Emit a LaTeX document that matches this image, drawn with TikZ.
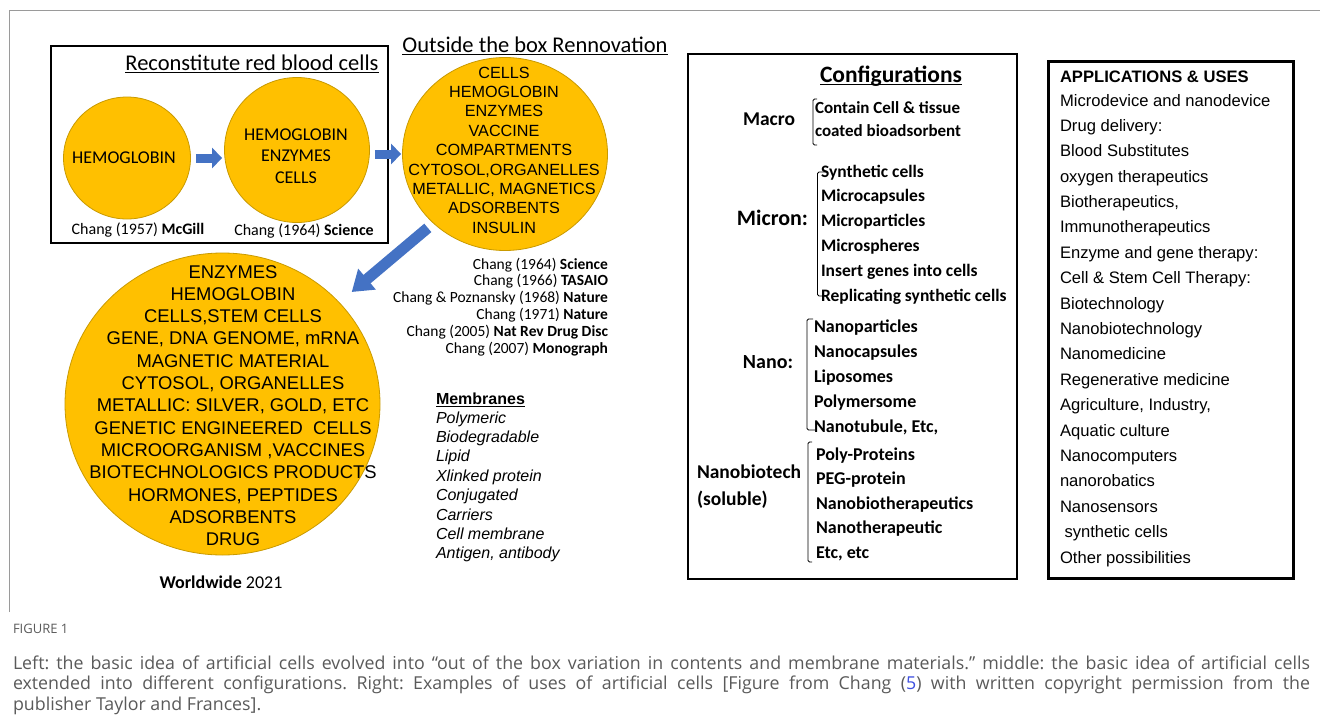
\documentclass[tikz,border=0pt]{standalone}
\usepackage{fontspec}
\setmainfont{Carlito}
\newfontfamily\arialfont{Liberation Sans}
\newfontfamily\capfont{Open Sans}
\usetikzlibrary{shapes.geometric,arrows.meta,calc}
\definecolor{gold}{HTML}{FFC000}
\definecolor{goldedge}{HTML}{C99A00}
\definecolor{arrowblue}{HTML}{4472C4}
\definecolor{capgray}{HTML}{5A5A5A}
\definecolor{framegray}{HTML}{9A9A9A}
\definecolor{linkblue}{HTML}{3D4FE0}
\newcommand{\fsz}[1]{\fontsize{#1}{#1}\selectfont}
\frenchspacing

\begin{document}
\begin{tikzpicture}[x=1pt,y=-1pt,
  cell/.style={ellipse, fill=gold, draw=goldedge, line width=0.8pt, inner sep=0pt},
  flowarrow/.style={draw=arrowblue, line width=9pt, -{Triangle[length=10pt,width=20pt]}},
  txt/.style={inner sep=0pt, outer sep=0pt},
  panel/.style={draw=black, inner sep=0pt, anchor=north west},
  brace/.style={draw=black, line width=0.9pt, rounded corners=1.5pt},
  uline/.style={draw=black, line width=1.1pt}]
\useasboundingbox (0,0) rectangle (1320,720);
\fill[white] (0,0) rectangle (1320,720);

% page frame
\draw[framegray, line width=1pt] (9,612) -- (9,10) -- (1320,10);

% ---------- left panel: contents ----------
\node[panel, line width=1.8pt, minimum width=337pt, minimum height=197pt] (rbcbox) at (50,45) {};
\node[txt, font=\fsz{22.5}, anchor=base] (rbctitle) at (252,70) {Reconstitute red blood cells};
\draw[uline] ([yshift=-2.5pt]rbctitle.base west) -- ([yshift=-2.5pt]rbctitle.base east);

\node[txt, font=\fsz{22.5}, anchor=base] (boxtitle) at (535,52) {Outside the box Rennovation};
\draw[uline] ([yshift=-2.5pt]boxtitle.base west) -- ([yshift=-2.5pt]boxtitle.base east);

\node[cell, minimum width=127pt, minimum height=122pt] (c1) at (127,158) {};
\node[txt, font=\fsz{18}, anchor=base] (c1t) at (124,163) {HEMOGLOBIN};

\node[cell, minimum width=145pt, minimum height=145pt] (c2) at (297,150) {};
\foreach \w [count=\i] in {HEMOGLOBIN,ENZYMES,CELLS}
  \node[txt, font=\fsz{18}, anchor=base] (c2t\i) at (296,118.5+21.5*\i) {\w};

\node[cell, minimum width=205pt, minimum height=193pt] (c3) at (505,154) {};
\foreach \w [count=\i] in {CELLS,HEMOGLOBIN,ENZYMES,VACCINE,COMPARTMENTS,{CYTOSOL,ORGANELLES},{METALLIC, MAGNETICS},ADSORBENTS,INSULIN}
  \node[txt, font=\arialfont\fsz{16.2}, anchor=base] (c3t\i) at (504,58.6+19.4*\i) {\w};

\node[cell, minimum width=315pt, minimum height=302pt] (c4) at (222.5,404) {};
\foreach \w [count=\i] in {ENZYMES,HEMOGLOBIN,{CELLS,STEM CELLS},{GENE, DNA GENOME, mRNA},MAGNETIC MATERIAL,{CYTOSOL, ORGANELLES},{METALLIC: SILVER, GOLD, ETC},GENETIC ENGINEERED\ \ CELLS,{MICROORGANISM ,VACCINES},BIOTECHNOLOGICS PRODUCTS,{HORMONES, PEPTIDES},ADSORBENTS,DRUG}
  \node[txt, font=\arialfont\fsz{18.4}, anchor=base] (c4t\i) at (233,255.67+22.33*\i) {\w};

% arrows between the cells
\draw[flowarrow, shorten <=5pt, shorten >=2pt] (c1.east) -- (c1.east -| c2.west);
\draw[flowarrow, shorten <=5pt, shorten >=1pt] (c2.east |- c3.west) -- (c3.west);
\draw[flowarrow, line width=11pt, -{Triangle[length=20pt,width=26pt]}, shorten <=7pt, shorten >=16pt] (c3.224) -- (c4.41);

% references
\node[txt, font=\fsz{16}, anchor=base] (ref1) at (138,234) {Chang (1957) \textbf{McGill}};
\node[txt, font=\fsz{16}, anchor=base] (ref2) at (304,235) {Chang (1964) \textbf{Science}};
\foreach \w [count=\i] in {Chang (1964) \textbf{Science},Chang (1966) \textbf{TASAIO},Chang \& Poznansky (1968) \textbf{Nature},Chang (1971) \textbf{Nature},Chang (2005) \textbf{Nat Rev Drug Disc},Chang (2007) \textbf{Monograph}}
  \node[txt, font=\fsz{15.5}, anchor=base east] (cite\i) at (608,252.2+16.8*\i) {\w};

% membranes list
\node[txt, font=\arialfont\bfseries\fsz{16}, anchor=base west] (memtitle) at (436,404) {Membranes};
\draw[uline] ([yshift=-2.5pt]memtitle.base west) -- ([yshift=-2.5pt]memtitle.base east);
\foreach \w [count=\i] in {Polymeric,Biodegradable,Lipid,Xlinked protein,Conjugated,Carriers,Cell membrane,{Antigen, antibody}}
  \node[txt, font=\arialfont\itshape\fsz{16}, anchor=base west] (mem\i) at (436,403.6+19.4*\i) {\w};

\node[txt, font=\fsz{18}, anchor=base] (world) at (221,588) {\textbf{Worldwide} 2021};

% ---------- middle panel: configurations ----------
\node[panel, line width=1.5pt, minimum width=329pt, minimum height=525pt] (cfgbox) at (687,53) {};
\node[txt, font=\bfseries\fsz{23.5}, anchor=base] (cfgtitle) at (891,82) {Configurations};
\draw[uline] ([yshift=-2.5pt]cfgtitle.base west) -- ([yshift=-2.5pt]cfgtitle.base east);

\node[txt, font=\bfseries\fsz{19.5}, anchor=base east] (macro) at (795,125) {Macro};
\node[txt, font=\bfseries\fsz{17}, anchor=base west] (mac1) at (815,113) {Contain Cell \& tissue};
\node[txt, font=\bfseries\fsz{17}, anchor=base west] (mac2) at (815,136) {coated bioadsorbent};
\draw[brace] (817,99) -- (813,99) -- (813,145) -- (817,145);

\node[txt, font=\bfseries\fsz{22}, anchor=base east] (micron) at (808,225) {Micron:};
\foreach \w [count=\i] in {Synthetic cells,Microcapsules,Microparticles,Microspheres,Insert genes into cells,Replicating synthetic cells}
  \node[txt, font=\bfseries\fsz{17.5}, anchor=base west] (mic\i) at (821,152.2+24.8*\i) {\w};
\draw[brace] (827,172) -- (817.5,172) -- (817.5,296) -- (827,296);

\node[txt, font=\bfseries\fsz{20}, anchor=base east] (nano) at (793,368) {Nano:};
\foreach \w [count=\i] in {Nanoparticles,Nanocapsules,Liposomes,Polymersome,{Nanotubule, Etc,}}
  \node[txt, font=\bfseries\fsz{18}, anchor=base west] (nan\i) at (814,307+25*\i) {\w};
\draw[brace] (813,319) -- (807,319) -- (807,430) -- (815,430);

\node[txt, font=\bfseries\fsz{19.5}, anchor=base west] (nbt) at (697,478) {Nanobiotech};
\node[txt, font=\bfseries\fsz{19.5}, anchor=base west] (sol) at (697,505) {(soluble)};
\foreach \w [count=\i] in {Poly-Proteins,PEG-protein,Nanobiotherapeutics,Nanotherapeutic,{Etc, etc}}
  \node[txt, font=\bfseries\fsz{18}, anchor=base west] (nb\i) at (816,435.5+24.5*\i) {\w};
\draw[brace] (812,442) -- (808,442) -- (808,562) -- (812,562);

% ---------- right panel: applications ----------
\node[panel, line width=3pt, minimum width=245pt, minimum height=517pt] (appbox) at (1047,60) {};
\node[txt, font=\arialfont\bfseries\fsz{16.6}, anchor=base west] (apptitle) at (1060,82) {APPLICATIONS \& USES};
\foreach \w [count=\i] in {Microdevice and nanodevice,Drug delivery:,Blood Substitutes,oxygen therapeutics,{Biotherapeutics,},Immunotherapeutics,Enzyme and gene therapy:,Cell \& Stem Cell Therapy:,Biotechnology,Nanobiotechnology,Nanomedicine,Regenerative medicine,{Agriculture, Industry,},Aquatic culture,Nanocomputers,nanorobatics,Nanosensors,\hspace*{4.5pt}synthetic cells,Other possibilities}
  \node[txt, font=\arialfont\fsz{16.6}, anchor=base west] (app\i) at (1060,80.61+25.39*\i) {\w};

% ---------- caption ----------
\node[txt, font=\capfont\fsz{13}, text=capgray, anchor=base west] (figlab) at (13,633) {FIGURE 1};
\node[txt, font=\capfont\fsz{17.8}, text=capgray, anchor=base west] (cap1) at (13,669)
  {\makebox[1297pt][s]{Left: the basic idea of artificial cells evolved into “out of the box variation in contents and membrane materials.” middle: the basic idea of artificial cells}};
\node[txt, font=\capfont\fsz{17.8}, text=capgray, anchor=base west] (cap2) at (13,689.5)
  {\makebox[1297pt][s]{extended into different configurations. Right: Examples of uses of artificial cells [Figure from Chang ({\color{linkblue}5}) with written copyright permission from the}};
\node[txt, font=\capfont\fsz{17.8}, text=capgray, anchor=base west] (cap3) at (13,710)
  {publisher Taylor and Frances].};
\end{tikzpicture}
\end{document}
